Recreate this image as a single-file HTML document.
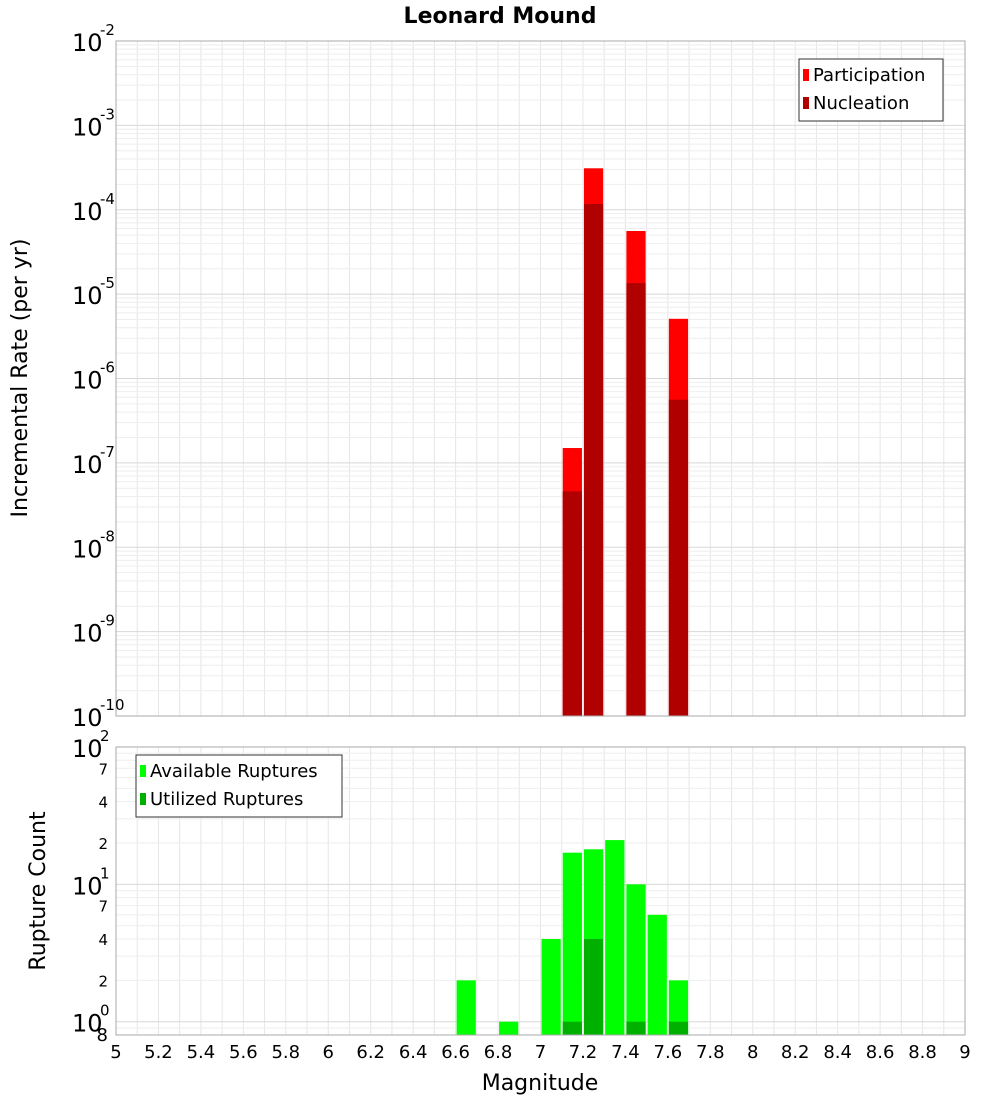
<!DOCTYPE html>
<html><head><meta charset="utf-8"><style>
body{margin:0;background:#fff;font-family:"Liberation Sans","DejaVu Sans",sans-serif}
svg text{font-family:"DejaVu Sans","Liberation Sans",sans-serif}
</style></head><body>
<svg id="c" width="1000" height="1100" xmlns="http://www.w3.org/2000/svg">
<text x="500" y="23" text-anchor="middle" font-size="22" font-weight="bold">Leonard Mound</text>
<text transform="translate(27,378) rotate(-90)" text-anchor="middle" font-size="22">Incremental Rate (per yr)</text>
<text transform="translate(45,891) rotate(-90)" text-anchor="middle" font-size="22">Rupture Count</text>
<text x="540" y="1090" text-anchor="middle" font-size="22">Magnitude</text>
<g id="g"></g>
</svg>
<script>
const mags=[7.15,7.25,7.45,7.65];
const participation=[1.5e-7,3.1e-4,5.6e-5,5.1e-6];
const nucleation=[4.6e-8,1.17e-4,1.35e-5,5.6e-7];
const countMags=[6.65,6.85,7.05,7.15,7.25,7.35,7.45,7.55,7.65];
const available=[2,1,4,17,18,21,10,6,2];
const utilMags=[7.15,7.25,7.45,7.65];
const utilized=[1,4,1,1];
const xTicks=[5,5.2,5.4,5.6,5.8,6,6.2,6.4,6.6,6.8,7,7.2,7.4,7.6,7.8,8,8.2,8.4,8.6,8.8,9];
const topExp=[-10,-9,-8,-7,-6,-5,-4,-3,-2];

const NS="http://www.w3.org/2000/svg",g=document.getElementById('g');
function el(t,a,txt){const e=document.createElementNS(NS,t);for(const k in a)e.setAttribute(k,a[k]);if(txt!==undefined)e.textContent=txt;g.appendChild(e);return e;}
const L=116,R=965,T1=41,B1=716,T2=747,B2=1035;
const X=m=>L+(m-5)/4*(R-L);
const Y1=v=>B1-(Math.log10(v)+10)/8*(B1-T1);
const lmin=Math.log10(0.8),Y2=v=>B2-(Math.log10(v)-lmin)/(2-lmin)*(B2-T2);

// grids
for(let m=5;m<=9.001;m+=0.1){
 let e=el('line',{x1:X(m),x2:X(m),y1:T1,y2:B1,stroke:'#e6e6e6'});
 e=el('line',{x1:X(m),x2:X(m),y1:T2,y2:B2,stroke:'#e6e6e6'});
}
for(let d=-10;d<-2;d++)for(let k=1;k<10;k++){const y=Y1(k*Math.pow(10,d));
 const e=el('line',{x1:L,x2:R,y1:y,y2:y,stroke:k==1?'#d8d8d8':'#eeeeee'});}
for(let d=-1;d<2;d++)for(let k=1;k<10;k++){const v=k*Math.pow(10,d);if(v<0.8)continue;const y=Y2(v);
 const e=el('line',{x1:L,x2:R,y1:y,y2:y,stroke:k==1?'#d8d8d8':'#eeeeee'});}

// top bars
const bw=(R-L)/40;
mags.forEach((m,i)=>{
 let e=el('rect',{x:X(m)-bw/2+1,y:Y1(participation[i]),width:bw-2,height:B1-Y1(participation[i]),fill:'#ff0000'});
 
 e=el('rect',{x:X(m)-bw/2+1,y:Y1(nucleation[i]),width:bw-2,height:B1-Y1(nucleation[i]),fill:'#b00000'});
 
});
countMags.forEach((m,i)=>{
 const e=el('rect',{x:X(m)-bw/2+1,y:Y2(available[i]),width:bw-2,height:B2-Y2(available[i]),fill:'#00ff00'});
 
});
utilMags.forEach((m,i)=>{
 const e=el('rect',{x:X(m)-bw/2+1,y:Y2(utilized[i]),width:bw-2,height:B2-Y2(utilized[i]),fill:'#00b000'});
 
});
// frames
let f=el('rect',{x:L,y:T1,width:R-L,height:B1-T1,fill:'none',stroke:'#aaa'});
f=el('rect',{x:L,y:T2,width:R-L,height:B2-T2,fill:'none',stroke:'#aaa'});

// x ticks
xTicks.forEach(m=>{const e=el('text',{x:X(m),y:1058,'text-anchor':'middle','font-size':18},String(m));
 });
// top y ticks
topExp.forEach(d=>{const y=Y1(Math.pow(10,d));
 const e=el('text',{x:72,y:y+10,'font-size':24},'10');
 const s=el('text',{x:100,y:y-6,'font-size':15},String(d));});
// bottom y ticks
[[100,'2'],[10,'1'],[1,'0']].forEach(([v,p])=>{const y=Y2(v);
 const e=el('text',{x:72,y:y+10,'font-size':24},'10');
 const s=el('text',{x:100,y:y-6,'font-size':15},p);});
[[70,'7'],[40,'4'],[20,'2'],[7,'7'],[4,'4'],[2,'2'],[0.8,'8']].forEach(([v,t])=>{const y=Y2(v);
 const e=el('text',{x:108,y:y+6,'text-anchor':'end','font-size':v==0.8?18:15},t);});

// legends
function legend(x,y,w,items,name){const b=el('rect',{x:x,y:y,width:w,height:items.length*28+6,fill:'#fff',stroke:'#333'});
 
 items.forEach(([c,t],i)=>{const r=el('rect',{x:x+4,y:y+10+i*28,width:6,height:12,fill:c});
 const tx=el('text',{x:x+14,y:y+22+i*28,'font-size':18},t);});}
legend(799,59,144,[['#ff0000','Participation'],['#b00000','Nucleation']],'top-legend');
legend(136,755,206,[['#00ff00','Available Ruptures'],['#00b000','Utilized Ruptures']],'bottom-legend');
</script>
</body></html>
